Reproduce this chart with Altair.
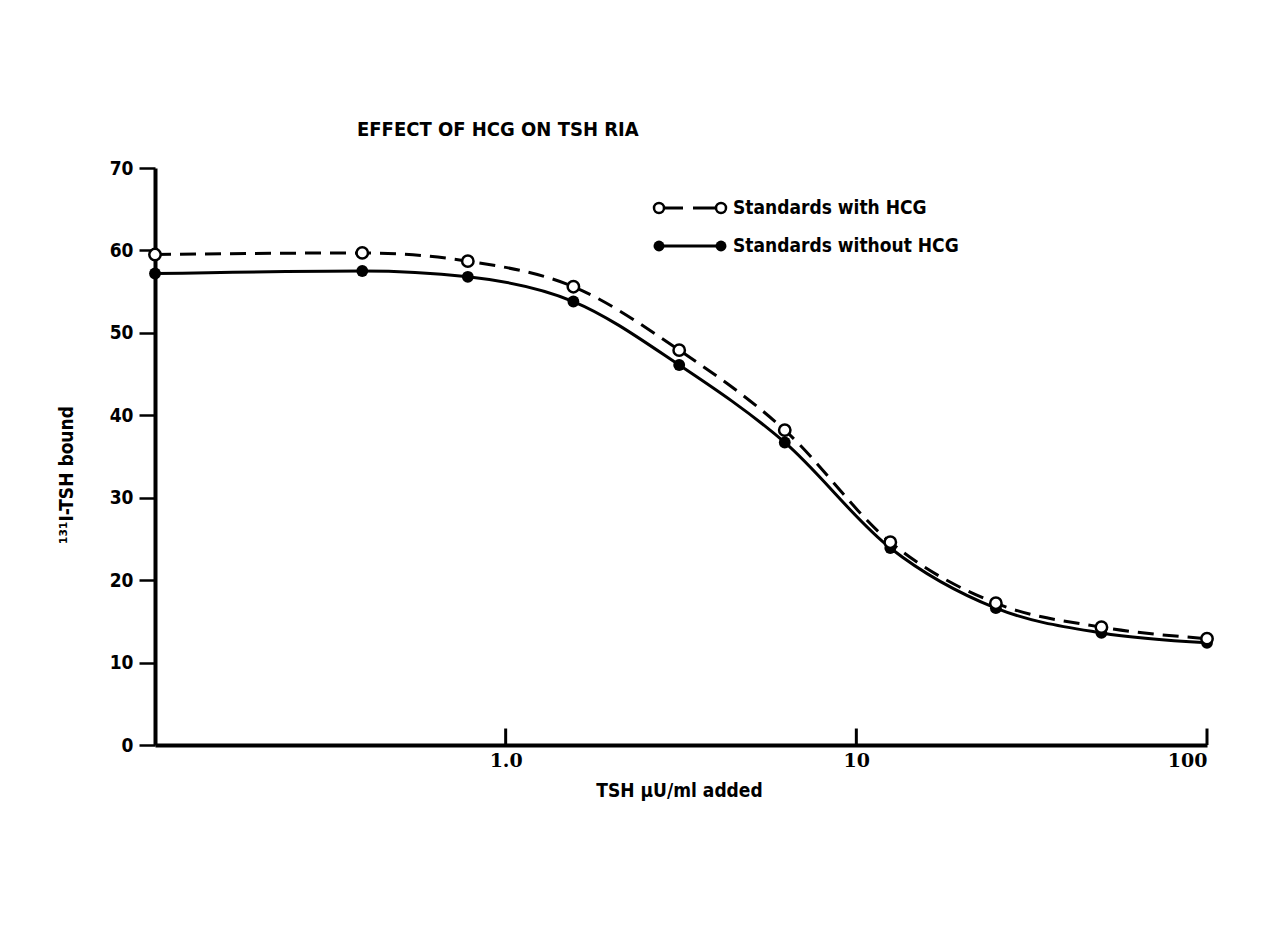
import altair as alt
import pandas as pd

# TSH standards (µU/ml) and percent of 131I-TSH bound
tsh_added = [0.1, 0.39, 0.78, 1.56, 3.125, 6.25, 12.5, 25, 50, 100]
bound_with_hcg = [59.5, 59.7, 58.7, 55.6, 47.9, 38.2, 24.6, 17.2, 14.3, 12.9]
bound_without_hcg = [57.2, 57.5, 56.8, 53.8, 46.1, 36.7, 23.9, 16.6, 13.6, 12.4]

series_names = ["Standards with HCG", "Standards without HCG"]

x_tick_values = [1, 10, 100]
x_tick_top = 2.0
y_tick_values = [0, 10, 20, 30, 40, 50, 60, 70]

SANS = "Liberation Sans Narrow, DejaVu Sans Condensed, sans-serif"
SERIF = "DejaVu Serif, serif"

W, H = 1052, 577

with_df = pd.DataFrame({"tsh": tsh_added, "bound": bound_with_hcg})
without_df = pd.DataFrame({"tsh": tsh_added, "bound": bound_without_hcg})
ticks_df = pd.DataFrame({"tsh": x_tick_values, "y0": [0] * 3, "y1": [x_tick_top] * 3})

x_scale = alt.Scale(type="log", domain=[0.1, 100], nice=False)
y_scale = alt.Scale(domain=[0, 70], nice=False)

x_axis = alt.Axis(
    values=x_tick_values,
    labelExpr="datum.value == 1 ? '1.0' : datum.label",
    ticks=False,
    grid=False,
    domainWidth=4,
    domainColor="black",
    labelFont=SERIF,
    labelFontWeight="bold",
    labelFontSize=19,
    labelColor="black",
    labelPadding=6,
    title="TSH µU/ml added",
    titleFont=SANS,
    titleFontWeight="bold",
    titleFontSize=19,
    titleColor="black",
    titleX=W / 2 - 2,
    titleY=45,
    titleBaseline="middle",
)
y_axis = alt.Axis(
    values=y_tick_values,
    grid=False,
    domainWidth=4,
    domainColor="black",
    tickSize=16,
    tickWidth=2.5,
    tickColor="black",
    labelFont=SANS,
    labelFontWeight="bold",
    labelFontSize=19,
    labelColor="black",
    labelPadding=6,
    title="¹³¹I-TSH bound",
    titleFont=SANS,
    titleFontWeight="bold",
    titleFontSize=19,
    titleColor="black",
    titleAngle=270,
    titleX=-89,
    titleY=H / 2 + 18,
    titleAlign="center",
    titleBaseline="middle",
)

base_x = alt.X("tsh:Q", scale=x_scale, axis=x_axis)
base_y = alt.Y("bound:Q", scale=y_scale, axis=y_axis)

line_with = alt.Chart(with_df).mark_line(
    color="black", strokeWidth=3, strokeDash=[16, 9], interpolate="monotone"
).encode(x=base_x, y=base_y)

line_without = alt.Chart(without_df).mark_line(
    color="black", strokeWidth=3, interpolate="monotone"
).encode(x=alt.X("tsh:Q", scale=x_scale), y=alt.Y("bound:Q", scale=y_scale))

pts_without = alt.Chart(without_df).mark_point(
    shape="circle", size=140, filled=True, color="black", opacity=1
).encode(x=alt.X("tsh:Q", scale=x_scale), y=alt.Y("bound:Q", scale=y_scale))

pts_with = alt.Chart(with_df).mark_point(
    shape="circle", size=130, fill="white", stroke="black", strokeWidth=2.5, opacity=1, fillOpacity=1
).encode(x=alt.X("tsh:Q", scale=x_scale), y=alt.Y("bound:Q", scale=y_scale))

x_ticks = alt.Chart(ticks_df).mark_rule(color="black", strokeWidth=3).encode(
    x=alt.X("tsh:Q", scale=x_scale),
    y=alt.Y("y0:Q", scale=y_scale),
    y2="y1:Q",
)


def legend_row(label, y_px, dashed, filled):
    src = alt.Chart(pd.DataFrame({"label": [label]}))
    x_left, x_right, x_text = 504, 566, 578
    rule_kw = {"strokeDash": [24, 10]} if dashed else {}
    rule = src.mark_rule(color="black", strokeWidth=3, **rule_kw).encode(
        x=alt.value(x_left), x2=alt.value(x_right), y=alt.value(y_px)
    )
    if filled:
        dot = dict(shape="circle", size=120, filled=True, color="black", opacity=1)
    else:
        dot = dict(shape="circle", size=100, fill="white", stroke="black", strokeWidth=2.5, opacity=1)
    left = src.mark_point(**dot).encode(x=alt.value(x_left), y=alt.value(y_px))
    right = src.mark_point(**dot).encode(x=alt.value(x_right), y=alt.value(y_px))
    text = src.mark_text(
        align="left", baseline="middle", font=SANS, fontWeight="bold", fontSize=19, color="black"
    ).encode(x=alt.value(x_text), y=alt.value(y_px), text="label:N")
    return [rule, left, right, text]


legend_layers = legend_row(series_names[0], 40, True, False) + legend_row(series_names[1], 78, False, True)

chart = alt.layer(
    line_with, line_without, x_ticks, pts_without, pts_with, *legend_layers
).properties(
    width=W,
    height=H,
    title=alt.TitleParams(
        "EFFECT OF HCG ON TSH RIA",
        anchor="start",
        frame="group",
        dx=202,
        offset=19,
        font=SANS,
        fontWeight="bold",
        fontSize=20,
        color="black",
    ),
    autosize=alt.AutoSizeParams(type="none"),
    padding={"left": 155, "top": 168, "right": 75, "bottom": 185},
    background="white",
).configure_view(stroke=None)

chart.save("out.html", embed_options={"renderer": "svg", "actions": False})
